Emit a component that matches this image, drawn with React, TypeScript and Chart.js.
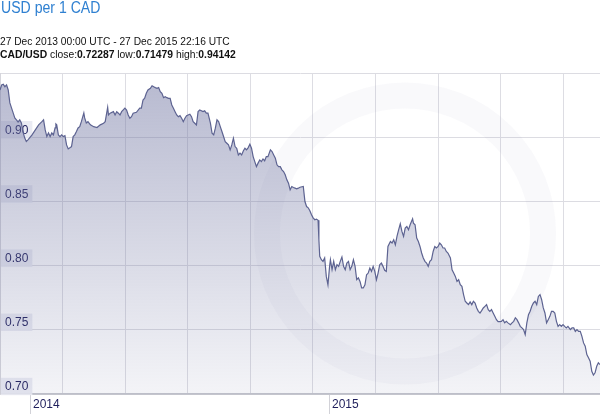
import React, { useEffect, useRef } from 'react';
import { Chart, registerables } from 'chart.js';

Chart.register(...registerables);

const titleText = 'USD per 1 CAD';
const rangeText = '27 Dec 2013 00:00 UTC - 27 Dec 2015 22:16 UTC';
const pairName = 'CAD/USD';
const closeValue = '0.72287';
const lowValue = '0.71479';
const highValue = '0.94142';

// days since 27 Dec 2013
const dayOffsets = [
  0, 2, 4, 6, 8, 10, 12, 14, 16, 18, 20, 22, 24, 26, 28, 30, 32, 34, 39, 43, 47, 51, 53, 55, 57, 59, 61, 63, 65,
  67, 68, 69, 71, 73, 75, 77, 79, 81, 83, 85, 87, 89, 91, 93, 95, 97, 99, 102, 103, 105, 107, 110, 114, 118, 122,
  126, 128, 131, 132, 134, 138, 140, 142, 144, 146, 148, 152, 154, 156, 158, 160, 162, 166, 170, 172, 174,
  176, 178, 180, 183, 185, 187, 189, 191, 193, 195, 197, 199, 201, 203, 205, 207, 209, 211, 213, 215,
  217, 219, 221, 223, 225, 227, 231, 233, 235, 237, 239, 241, 243,
  247, 249, 251, 253, 256, 258, 260, 262, 264, 266, 268, 270, 272, 274, 276, 278, 280, 282, 284, 286,
  288, 290, 292, 294, 296, 298, 300, 302, 304, 306, 308, 310, 312, 314, 316, 318, 320, 322, 324, 326,
  329, 331, 333, 335, 337, 339, 341, 343, 345, 347, 349, 351, 353, 355, 357, 359, 361, 363, 365,
  369, 371, 373, 375, 377, 379, 381, 383, 385, 387, 388, 389, 391, 393, 395, 397, 399, 401, 402, 404,
  406, 408, 410, 412, 414, 416, 418, 420, 422, 424, 426, 428, 430, 432, 434, 436, 438, 440, 442, 444,
  446, 448, 450, 452, 454, 456, 458, 460, 462, 464, 466, 468, 470, 472, 475, 477, 479, 481, 483, 485, 487,
  489, 491, 493, 495, 497, 499, 502, 503, 505, 507, 509, 511, 513, 515, 517, 519, 521, 523, 525, 527,
  529, 531, 533, 535, 537, 539, 541, 543, 545, 548, 550, 552, 554, 556, 558, 560, 562, 564, 566, 568,
  570, 572, 574, 576, 578, 580, 582, 584, 586, 588, 590, 592, 594, 596, 598, 600, 602, 604, 606, 608,
  610, 612, 614, 616, 618, 621, 623, 625, 627, 629, 631, 633, 635, 637, 639, 641, 643, 645, 647, 649,
  651, 653, 655, 657, 659, 661, 663, 665, 667, 669, 671, 673, 675, 677, 679, 681, 683, 685, 687, 689,
  691, 694, 696, 698, 700, 702, 704, 706, 708, 710, 712, 714, 716, 718, 720, 722, 724, 726, 728, 730,
];

const rates = [
  0.9368, 0.9407, 0.9412, 0.9393, 0.9407, 0.9368, 0.9267, 0.9228, 0.9189, 0.9150, 0.9135, 0.9119, 0.9135, 0.9111,
  0.9041, 0.8995, 0.8966, 0.8979, 0.9018, 0.9057, 0.9096, 0.9121, 0.9135, 0.9057, 0.9005, 0.9033, 0.9005, 0.9033,
  0.9018, 0.9072, 0.9103, 0.9096, 0.9018, 0.9005, 0.9018, 0.9005, 0.9012, 0.8940, 0.8909, 0.8917, 0.8927, 0.9005,
  0.9018, 0.9044, 0.9072, 0.9082, 0.9121, 0.9189, 0.9150, 0.9111, 0.9121, 0.9096, 0.9082, 0.9075, 0.9096,
  0.9109, 0.9121, 0.9232, 0.9173, 0.9187, 0.9199, 0.9173, 0.9199, 0.9187, 0.9173, 0.9199,
  0.9226, 0.9212, 0.9173, 0.9148, 0.9160, 0.9187, 0.9194, 0.9226, 0.9226, 0.9290,
  0.9303, 0.9342, 0.9368, 0.9381, 0.9401, 0.9393, 0.9386, 0.9381, 0.9386, 0.9355,
  0.9342, 0.9308, 0.9316, 0.9308, 0.9303, 0.9303, 0.9251, 0.9226, 0.9199, 0.9173,
  0.9160, 0.9168, 0.9148, 0.9121, 0.9148, 0.9168, 0.9179, 0.9160, 0.9121, 0.9109, 0.9096, 0.9199, 0.9212,
  0.9199, 0.9205, 0.9187, 0.9187, 0.9109, 0.9031, 0.9018, 0.9070, 0.9135, 0.9121,
  0.9082, 0.9044, 0.9005, 0.8966, 0.8953, 0.8940, 0.8901, 0.8940, 0.8992, 0.8927,
  0.8914, 0.8862, 0.8876, 0.8862, 0.8893, 0.8914, 0.8901, 0.8919, 0.8946, 0.8914,
  0.8849, 0.8810, 0.8771, 0.8798, 0.8823, 0.8810, 0.8831, 0.8816, 0.8849, 0.8849,
  0.8901, 0.8888, 0.8862, 0.8837, 0.8785, 0.8771, 0.8771, 0.8746, 0.8733, 0.8707,
  0.8668, 0.8642, 0.8590, 0.8616, 0.8608, 0.8603, 0.8598, 0.8603, 0.8610,
  0.8616, 0.8499, 0.8460, 0.8450, 0.8427, 0.8396, 0.8372, 0.8357, 0.8362, 0.8353,
  0.8201, 0.8072, 0.8046, 0.8033, 0.8059, 0.7916, 0.7851, 0.7994, 0.8046, 0.7968,
  0.8033, 0.7968, 0.8007, 0.7994, 0.8033, 0.8067, 0.7994, 0.7968, 0.8020, 0.8033,
  0.7968, 0.7994, 0.8046, 0.7994, 0.7890, 0.7904, 0.7877, 0.7826, 0.7826, 0.7851,
  0.7929, 0.7942, 0.7981, 0.7955, 0.7994, 0.7955, 0.7890, 0.7942, 0.8007, 0.8020,
  0.7994, 0.7963, 0.7955, 0.8149, 0.8188, 0.8176, 0.8201, 0.8162, 0.8227, 0.8279, 0.8326,
  0.8266, 0.8227, 0.8292, 0.8305, 0.8279, 0.8318, 0.8365, 0.8331, 0.8318, 0.8215,
  0.8188, 0.8149, 0.8098, 0.8059, 0.8033, 0.8020, 0.7994, 0.8033, 0.8046, 0.8110,
  0.8149, 0.8137, 0.8149, 0.8176, 0.8162, 0.8137, 0.8137, 0.8110, 0.8098, 0.8059,
  0.7968, 0.7942, 0.7916, 0.7877, 0.7890, 0.7851, 0.7838, 0.7774, 0.7722, 0.7709,
  0.7696, 0.7717, 0.7696, 0.7722, 0.7709, 0.7670, 0.7644, 0.7631, 0.7649, 0.7670,
  0.7683, 0.7696, 0.7657, 0.7644, 0.7657, 0.7631, 0.7605, 0.7579, 0.7564, 0.7564,
  0.7566, 0.7579, 0.7554, 0.7566, 0.7554, 0.7540, 0.7554, 0.7566, 0.7593, 0.7579,
  0.7554, 0.7527, 0.7515, 0.7502, 0.7463, 0.7554, 0.7618, 0.7644, 0.7683, 0.7709,
  0.7722, 0.7696, 0.7760, 0.7774, 0.7735, 0.7670, 0.7631, 0.7554, 0.7579, 0.7605,
  0.7644, 0.7644, 0.7631, 0.7566, 0.7527, 0.7540, 0.7527, 0.7540, 0.7527, 0.7515,
  0.7527, 0.7502, 0.7515, 0.7515, 0.7488, 0.7502, 0.7488, 0.7488, 0.7449, 0.7398,
  0.7372, 0.7307, 0.7282, 0.7255, 0.7177, 0.7148, 0.7165, 0.7216, 0.7243, 0.7229,
];

const totalDays = 730;
const gridDays = [76.2, 152.3, 228.5, 304.7, 380.8, 457.0, 533.2, 609.3, 685.5];
const yearLabels = ['2014', '2015'];
const yearLabelDays = [36.5, 400.3];
const yTicks = [0.7, 0.75, 0.8, 0.85, 0.9, 0.95];
const yMin = 0.7;
const yMax = 0.95;

const FONT = '"Liberation Sans", Arial, Helvetica, sans-serif';

// faint circular watermark behind the series
const watermarkPlugin = {
  id: 'watermarkRing',
  beforeDatasetsDraw(chart: any) {
    const { ctx, chartArea } = chart;
    if (!chartArea) return;
    const cx = chartArea.left + (chartArea.right - chartArea.left) * 0.675;
    const cy = chartArea.top + (chartArea.bottom - chartArea.top) * 0.5;
    const r = (chartArea.bottom - chartArea.top) * 0.43;
    ctx.save();
    ctx.beginPath();
    ctx.rect(chartArea.left, chartArea.top, chartArea.right - chartArea.left, chartArea.bottom - chartArea.top);
    ctx.clip();
    ctx.strokeStyle = 'rgba(120,125,160,0.045)';
    ctx.lineWidth = 26;
    ctx.beginPath();
    ctx.arc(cx, cy, r, 0, Math.PI * 2);
    ctx.stroke();
    ctx.restore();
  },
};

export default function App() {
  const canvasRef = useRef<HTMLCanvasElement | null>(null);

  useEffect(() => {
    const canvas = canvasRef.current;
    if (!canvas) return;
    const points = dayOffsets.map((d, i) => ({ x: d, y: rates[i] }));
    const chart = new Chart(canvas, {
      type: 'line',
      data: {
        datasets: [
          {
            data: points,
            borderColor: '#5d6391',
            borderWidth: 1.2,
            pointRadius: 0,
            tension: 0,
            fill: 'start',
            backgroundColor: (ctx: any) => {
              const area = ctx.chart.chartArea;
              if (!area) return 'rgba(110,115,160,0.3)';
              const g = ctx.chart.ctx.createLinearGradient(0, area.top, 0, area.bottom);
              g.addColorStop(0, 'rgba(110,115,160,0.50)');
              g.addColorStop(1, 'rgba(110,115,160,0.08)');
              return g;
            },
          },
        ],
      },
      options: {
        animation: false,
        responsive: false,
        maintainAspectRatio: false,
        layout: { padding: { top: 73, left: 0, right: 0, bottom: 0 } },
        plugins: { legend: { display: false }, tooltip: { enabled: false }, title: { display: false } },
        scales: {
          x: {
            type: 'linear',
            position: 'bottom',
            min: 0,
            max: totalDays,
            weight: 0,
            afterBuildTicks: (s: any) => {
              s.ticks = gridDays.map((v) => ({ value: v }));
            },
            afterFit: (s: any) => {
              s.height = 0;
            },
            ticks: { display: false },
            grid: { color: '#dddde3', lineWidth: 1, drawTicks: false },
            border: { display: true, color: '#c4c5cd', width: 2 },
          },
          x2: {
            type: 'linear',
            position: 'bottom',
            min: 0,
            max: totalDays,
            weight: 1,
            afterBuildTicks: (s: any) => {
              s.ticks = yearLabelDays.map((v) => ({ value: v }));
            },
            afterFit: (s: any) => {
              s.height = 20;
            },
            ticks: {
              autoSkip: false,
              maxRotation: 0,
              align: 'start',
              labelOffset: 3,
              padding: -17,
              color: '#1f1f5c',
              font: { family: FONT, size: 12 },
              callback: (_v: any, i: number) => yearLabels[i],
            },
            grid: { drawOnChartArea: false, drawTicks: true, tickLength: 20, color: '#d2d2d8' },
            border: { display: false },
          },
          y: {
            type: 'linear',
            position: 'left',
            min: yMin,
            max: yMax,
            afterBuildTicks: (s: any) => {
              s.ticks = yTicks.map((v) => ({ value: v }));
            },
            afterFit: (s: any) => {
              s.width = 0;
            },
            ticks: {
              mirror: true,
              padding: 5,
              labelOffset: -7,
              color: '#1f1f5c',
              font: { family: FONT, size: 12 },
              showLabelBackdrop: true,
              backdropColor: (ctx: any) =>
                ctx.tick && ctx.tick.value >= yMax - 1e-6 ? 'rgba(0,0,0,0)' : 'rgba(232,233,242,0.92)',
              backdropPadding: { top: 2, bottom: 1, left: 4, right: 4 },
              callback: (v: any) => (Number(v) >= yMax - 1e-6 ? '' : Number(v).toFixed(2)),
            },
            grid: { color: '#dcdce2', drawTicks: false },
            border: { display: true, color: '#d6d6dc' },
          },
        },
      },
      plugins: [watermarkPlugin],
    } as any);
    return () => chart.destroy();
  }, []);

  return (
    <div style={{ position: 'absolute', left: 0, top: 0, width: 600, height: 414, background: '#fff', overflow: 'hidden' }}>
      <canvas ref={canvasRef} width={600} height={414} style={{ position: 'absolute', left: 0, top: 0 }} />
      <div
        style={{
          position: 'absolute',
          left: 1,
          top: 0,
          fontFamily: FONT,
          fontSize: 16,
          lineHeight: '16px',
          color: '#2f80d1',
          whiteSpace: 'nowrap',
          transform: 'scaleX(0.88)',
          transformOrigin: 'left top',
        }}
      >
        {titleText}
      </div>
      <div
        style={{
          position: 'absolute',
          left: 0,
          top: 35,
          fontFamily: FONT,
          fontSize: 11,
          lineHeight: '12px',
          color: '#111',
          whiteSpace: 'nowrap',
          transform: 'scaleX(0.93)',
          transformOrigin: 'left top',
        }}
      >
        {rangeText}
      </div>
      <div
        style={{
          position: 'absolute',
          left: 0,
          top: 47.5,
          fontFamily: FONT,
          fontSize: 11,
          lineHeight: '12px',
          color: '#111',
          whiteSpace: 'nowrap',
          transform: 'scaleX(0.94)',
          transformOrigin: 'left top',
        }}
      >
        <b>{pairName}</b> close:<b>{closeValue}</b> low:<b>{lowValue}</b> high:<b>{highValue}</b>
      </div>
    </div>
  );
}
